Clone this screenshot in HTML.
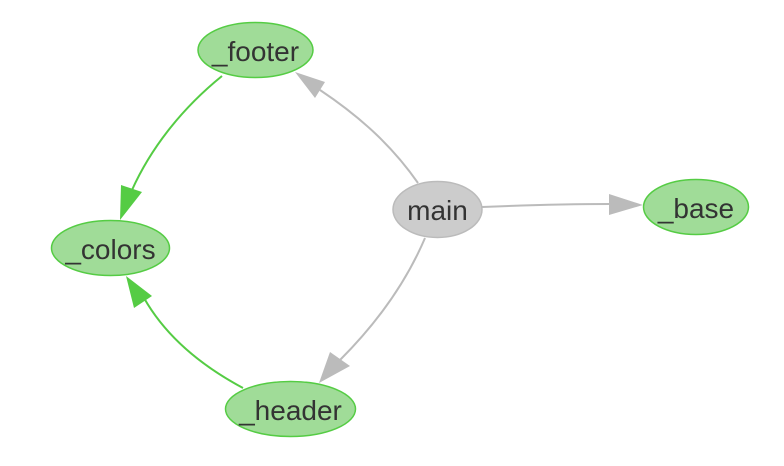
<!DOCTYPE html>
<html><head><meta charset="utf-8"><style>
html,body{margin:0;padding:0;background:#fff;width:784px;height:466px;overflow:hidden}
svg{display:block}
text{font-family:"Liberation Sans",Arial,sans-serif;font-size:28px;fill:#333;text-anchor:middle}
</style></head><body>
<svg width="784" height="466" viewBox="0 0 784 466" xmlns="http://www.w3.org/2000/svg">
<path d="M222,76 C180,110 150,150 132,190" fill="none" stroke="#55cc44" stroke-width="2"/>
<polygon points="120,220 121,185 142,192" fill="#55cc44"/>
<path d="M243,388 C200,365 165,335 144,298" fill="none" stroke="#55cc44" stroke-width="2"/>
<polygon points="126,276 134,308 152,296" fill="#55cc44"/>
<path d="M418,183 C395,150 365,120 320,90" fill="none" stroke="#bbb" stroke-width="2"/>
<polygon points="295,72 315,98 325,82" fill="#bbb"/>
<path d="M425,238 C405,285 375,325 340,360" fill="none" stroke="#bbb" stroke-width="2"/>
<polygon points="319,383 330,352 350,366" fill="#bbb"/>
<path d="M482,207 C530,205 570,204 610,204" fill="none" stroke="#bbb" stroke-width="2"/>
<polygon points="643,205 609,194 609,215" fill="#bbb"/>
<ellipse cx="255.5" cy="50" rx="57.5" ry="27.5" fill="#a0dc98" stroke="#55cc44" stroke-width="1.5"/>
<text x="255.5" y="61">_footer</text>
<ellipse cx="110.5" cy="248" rx="59" ry="27.5" fill="#a0dc98" stroke="#55cc44" stroke-width="1.5"/>
<text x="110.5" y="259">_colors</text>
<ellipse cx="437.5" cy="209.5" rx="44.5" ry="28" fill="#cccccc" stroke="#bbbbbb" stroke-width="1.5"/>
<text x="437.5" y="220">main</text>
<ellipse cx="696" cy="207" rx="52.5" ry="27.5" fill="#a0dc98" stroke="#55cc44" stroke-width="1.5"/>
<text x="696" y="218">_base</text>
<ellipse cx="290.5" cy="409" rx="65" ry="27.5" fill="#a0dc98" stroke="#55cc44" stroke-width="1.5"/>
<text x="290.5" y="420">_header</text>
</svg>
</body></html>
